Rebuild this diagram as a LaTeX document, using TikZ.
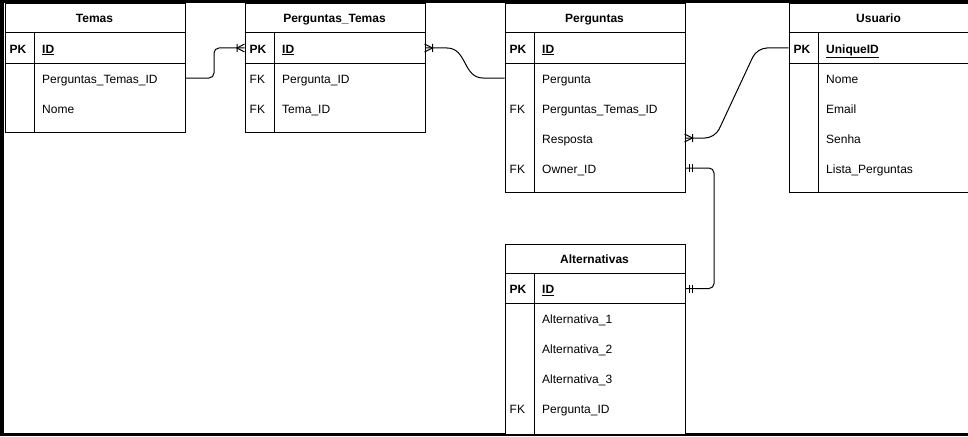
\documentclass[tikz,border=0pt]{standalone}
\usepackage{fontspec}
\setmainfont{Liberation Sans}
\usetikzlibrary{positioning}

\tikzset{
    tabela/.style={draw, line width=1pt, fill=white, anchor=north west, minimum width=180pt, inner sep=0pt},
    titulo/.style={font=\fontsize{12}{14}\selectfont\bfseries, inner sep=0pt, text height=10pt, text depth=0pt},
    campo/.style={font=\fontsize{12}{14}\selectfont, anchor=west, inner sep=0pt, text height=10pt, text depth=0pt},
    rel/.style={line width=1pt},
}

\begin{document}
\begin{tikzpicture}[x=1pt,y=-1pt]
    \useasboundingbox (0,0) rectangle (968,436);
    \fill[black] (0,0) rectangle (968,436);
    \fill[white] (4,3) rectangle (968,433);

    % Temas
    \node[tabela, minimum height=129pt] (temas) at (4.5,3) {};
    \draw[rel] (4.5,33) -- (184.5,33) (4.5,63) -- (184.5,63) (34.5,33) -- (34.5,132);
    \node[titulo] (temT) at (94.5,18) {Temas};
    \node[campo] (temK) at (9.5,48) {\textbf{PK}};
    \node[campo] (temPK) at (42,48) {\textbf{\underline{ID}}};
    \node[campo] (temF1) at (42,78) {Perguntas\_Temas\_ID};
    \node[campo] (temF2) at (42,108) {Nome};

    % Perguntas_Temas
    \node[tabela, minimum height=129pt] (ptemas) at (244.5,3) {};
    \draw[rel] (244.5,33) -- (424.5,33) (244.5,63) -- (424.5,63) (274.5,33) -- (274.5,132);
    \node[titulo] (ptT) at (334.5,18) {Perguntas\_Temas};
    \node[campo] (ptK) at (249.5,48) {\textbf{PK}};
    \node[campo] (ptPK) at (282,48) {\textbf{\underline{ID}}};
    \node[campo] (ptK1) at (249.5,78) {FK};
    \node[campo] (ptF1) at (282,78) {Pergunta\_ID};
    \node[campo] (ptK2) at (249.5,108) {FK};
    \node[campo] (ptF2) at (282,108) {Tema\_ID};

    % Perguntas
    \node[tabela, minimum height=189pt] (perg) at (504.5,3) {};
    \draw[rel] (504.5,33) -- (684.5,33) (504.5,63) -- (684.5,63) (534.5,33) -- (534.5,192);
    \node[titulo] (pgT) at (594.5,18) {Perguntas};
    \node[campo] (pgK) at (509.5,48) {\textbf{PK}};
    \node[campo] (pgPK) at (542,48) {\textbf{\underline{ID}}};
    \node[campo] (pgF1) at (542,78) {Pergunta};
    \node[campo] (pgK2) at (509.5,108) {FK};
    \node[campo] (pgF2) at (542,108) {Perguntas\_Temas\_ID};
    \node[campo] (pgF3) at (542,138) {Resposta};
    \node[campo] (pgK4) at (509.5,168) {FK};
    \node[campo] (pgF4) at (542,168) {Owner\_ID};

    % Usuario
    \node[tabela, minimum height=189pt] (usr) at (788.5,3) {};
    \draw[rel] (788.5,33) -- (968.5,33) (788.5,63) -- (968.5,63) (818.5,33) -- (818.5,192);
    \node[titulo] (usT) at (878.5,18) {Usuario};
    \node[campo] (usK) at (793.5,48) {\textbf{PK}};
    \node[campo] (usPK) at (826,48) {\textbf{\underline{UniqueID}}};
    \node[campo] (usF1) at (826,78) {Nome};
    \node[campo] (usF2) at (826,108) {Email};
    \node[campo] (usF3) at (826,138) {Senha};
    \node[campo] (usF4) at (826,168) {Lista\_Perguntas};

    % Alternativas
    \node[tabela, minimum height=190pt] (alt) at (504.5,243.5) {};
    \draw[rel] (504.5,273.5) -- (684.5,273.5) (504.5,303.5) -- (684.5,303.5) (534.5,273.5) -- (534.5,433.5);
    \node[titulo] (alT) at (594.5,258.5) {Alternativas};
    \node[campo] (alK) at (509.5,288.5) {\textbf{PK}};
    \node[campo] (alPK) at (542,288.5) {\textbf{\underline{ID}}};
    \node[campo] (alF1) at (542,318.5) {Alternativa\_1};
    \node[campo] (alF2) at (542,348.5) {Alternativa\_2};
    \node[campo] (alF3) at (542,378.5) {Alternativa\_3};
    \node[campo] (alK4) at (509.5,408.5) {FK};
    \node[campo] (alF4) at (542,408.5) {Pergunta\_ID};

    % relacoes
    \draw[rel, rounded corners=5pt] (temF1 -| temas.east) -- (214,78) -- (214,48) -- (ptPK -| ptemas.west);
    \draw[rel] (237,44) -- (237,52) (244.5,44) -- (237,48) -- (244.5,52);

    \draw[rel] (ptPK -| ptemas.east) -- (447,48) .. controls (467,48) and (463,78) .. (483,78) -- (pgF1 -| perg.west);
    \draw[rel] (432.5,44) -- (432.5,52) (424.5,44) -- (432.5,48) -- (424.5,52);

    \draw[rel, rounded corners=10pt] (pgF3 -| perg.east) -- (715,138) -- (757,48) -- (usPK -| usr.west);
    \draw[rel] (692.5,134) -- (692.5,142) (684.5,134) -- (692.5,138) -- (684.5,142);

    \draw[rel, rounded corners=5pt] (pgF4 -| perg.east) -- (714,168) -- (714,288.5) -- (alPK -| alt.east);
    \draw[rel] (689,164) -- (689,172) (692,164) -- (692,172);
    \draw[rel] (689,284.5) -- (689,292.5) (692,284.5) -- (692,292.5);
\end{tikzpicture}
\end{document}
